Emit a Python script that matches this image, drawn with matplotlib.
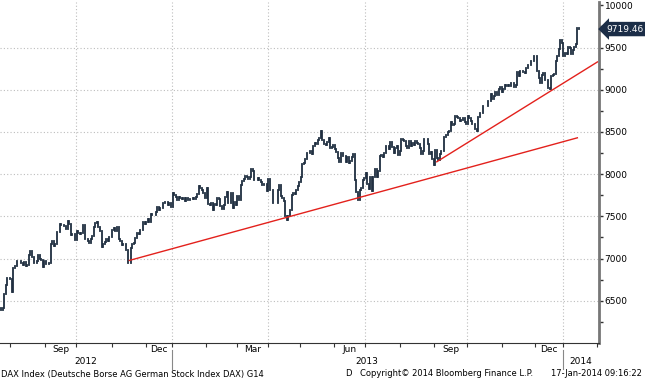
import numpy as np
import pandas as pd
import matplotlib
matplotlib.use('Agg')
import matplotlib.pyplot as plt
import matplotlib.transforms as mtransforms
from matplotlib.lines import Line2D

#%% Data: DAX daily closes, one row per week (Mon..Fri), nan = exchange closed
week0 = '2012-07-23'
nan = np.nan
closes = [
    [6419, 6390, 6412, 6583, 6689],
    [6773, 6772, 6754, 6606, 6888],
    [6918, 6967, 6966, 6966, 6944],
    [6929, 6954, 6910, 6928, 7041],
    [7087, 7017, 6953, 6950, 6972],
    [7047, 6991, 6983, 6895, 6970],
    [6933, 6932, 6942, 7167, 7214],
    [7152, 7167, 7310, 7310, 7412],
    [7403, 7393, 7390, 7349, 7451],
    [7413, 7276, 7291, 7290, 7216],
    [7326, 7306, 7292, 7306, 7397],
    [7231, 7234, 7205, 7181, 7233],
    [7262, 7377, 7425, 7437, 7380],
    [7329, 7141, 7171, 7198, 7232],
    [7204, 7253, 7261, 7335, 7364],
    [7327, 7377, 7232, 7204, 7163],
    [7169, 7168, 7101, 6951, 6950],
    [7123, 7173, 7183, 7244, 7309],
    [7293, 7343, 7336, 7435, 7405],
    [7435, 7471, 7435, 7534, 7517],
    [7514, 7557, 7614, 7581, 7596],
    [7605, 7655, 7673, 7668, 7636],
    [nan, nan, nan, 7655, 7612],
    [nan, nan, 7778, 7756, 7732],
    [7696, 7732, 7720, 7708, 7715],
    [7682, 7715, 7689, 7702, 7701],
    [7718, 7708, 7726, 7760, 7857],
    [7834, 7811, 7776, 7723, 7833],
    [7641, 7639, 7660, 7581, 7652],
    [7634, 7713, 7705, 7628, 7593],
    [7638, 7728, 7785, 7660, 7662],
    [7773, 7600, 7675, 7635, 7741],
    [7691, 7870, 7917, 7944, 7973],
    [7964, 7939, 7966, 8058, 8042],
    [7931, 7929, 7960, 7932, 7912],
    [7870, 7878, 7879, 7795, nan],
    [nan, 7943, 7810, 7817, 7658],
    [7663, 7662, 7810, 7871, 7744],
    [7712, 7682, 7503, 7459, 7504],
    [7574, 7758, 7779, 7769, 7814],
    [7863, 7913, nan, 7963, 8122],
    [8135, 8181, 8249, 8248, 8278],
    [8234, 8338, 8369, 8363, 8400],
    [8425, 8510, 8400, 8352, 8349],
    [8383, 8432, 8311, 8322, 8348],
    [8295, 8258, 8189, 8140, 8254],
    [8221, 8218, 8142, 8209, 8128],
    [8157, 8205, 8238, 7928, 7789],
    [7692, 7808, 7832, 7934, 7959],
    [8010, 7879, 7829, 7970, 7806],
    [7970, 8057, 7970, 8039, 8212],
    [8233, 8201, 8250, 8330, 8331],
    [8303, 8382, 8318, 8247, 8313],
    [8339, 8223, 8276, 8411, 8404],
    [8397, 8332, 8311, 8399, 8338],
    [8364, 8344, 8391, 8369, 8355],
    [8310, 8240, 8279, 8413, 8416],
    [8356, 8242, 8258, 8175, 8103],
    [8286, 8195, 8165, 8235, 8275],
    [8276, 8446, 8469, 8495, 8509],
    [8613, 8588, 8600, 8694, 8675],
    [8665, 8628, 8639, 8660, 8617],
    [8594, 8694, 8669, 8630, 8590],
    [8591, 8537, 8516, 8681, 8725],
    [8724, 8804, 8806, 8812, 8869],
    [8868, 8947, 8889, 8924, 8978],
    [8940, 9010, 9033, 8968, 9009],
    [9055, 9041, 9058, 9040, 9078],
    [9077, 9037, 9055, 9215, 9168],
    [9226, 9225, 9207, 9193, 9262],
    [9292, 9290, 9336, 9345, 9406],
    [9403, 9225, 9140, 9084, 9172],
    [9200, 9114, 9114, 9017, 9006],
    [9163, 9181, 9182, 9336, 9400],
    [9488, nan, nan, nan, 9590],
    [9552, nan, nan, 9400, 9435],
    [9428, 9506, 9497, 9421, 9473],
    [9511, 9540, 9733, 9717, 9719.46],
]

holidays = ['2012-12-24', '2012-12-25', '2012-12-26', '2012-12-31', '2013-01-01',
            '2013-03-29', '2013-04-01', '2013-05-01', '2013-12-24', '2013-12-25',
            '2013-12-26', '2013-12-31', '2014-01-01']

# trend lines (start date, end date), (start value, end value)
trend1_dates = ['2012-11-16', '2014-01-15']
trend1_vals = [6978, 8431]
trend2_dates = ['2013-09-03', '2014-02-03']
trend2_vals = [8147, 9330]

yticks = [6500, 7000, 7500, 8000, 8500, 9000, 9500, 10000]
month_labels = ['Sep', 'Dec', 'Mar', 'Jun', 'Sep', 'Dec']
month_label_dates = ['2012-09', '2012-12', '2013-03', '2013-06', '2013-09', '2013-12']
year_labels = ['2012', '2013', '2014']
year_starts = ['2013-01-01', '2014-01-01']

#%% Trading day calendar -> x positions
cal = pd.bdate_range(week0, '2014-03-31')
cal = cal[~cal.isin(pd.to_datetime(holidays))]

c = np.array(closes, dtype=float).ravel()
c = c[~np.isnan(c)]
x = np.arange(len(c))
o = np.r_[c[0], c[:-1]]

def pos(d):
    return cal.searchsorted(pd.Timestamp(d))

#%% Plot
fig = plt.figure(figsize=(6.45, 3.8), dpi=100)
ax = fig.add_axes([0, 37/380, 599/645, 341/380])

bars = ax.vlines(x, np.minimum(o, c), np.maximum(o, c), color='#1f2e40', lw=1.3)
bars.set_capstyle('projecting')

ax.plot([pos(d) for d in trend1_dates], trend1_vals, color='#e3211c', lw=1.0)
ax.plot([pos(d) for d in trend2_dates], trend2_vals, color='#e3211c', lw=1.0)

ax.set_xlim(0.3, 388)
ax.set_ylim(6000, 10040)

# x ticks: month boundaries, gridlines at quarter boundaries
months = pd.date_range('2012-08-01', '2014-02-01', freq='MS')
mpos = [pos(m) - 0.5 for m in months]
qpos = [pos(m) - 0.5 for m in months if m.month in (1, 4, 7, 10)]
ax.set_xticks(qpos)
ax.set_xticks(mpos, minor=True)
ax.set_xticklabels([])
ax.set_yticks(yticks)
ax.set_yticks(np.arange(6250, 10040, 250), minor=True)
ax.yaxis.tick_right()
ax.set_yticklabels([str(v) for v in yticks])
ax.tick_params(axis='y', which='both', direction='out', length=3, width=1,
               color='#333333', labelsize=6.5, pad=1)
ax.tick_params(axis='x', which='both', direction='out', length=3, width=0.8,
               color='#333333')
ax.grid(True, which='major', color='#bdbdbd', linestyle=(0, (1, 2)), lw=0.8)
ax.get_ygridlines()[-1].set_visible(False)

for s in ['left', 'top']:
    ax.spines[s].set_visible(False)
ax.spines['right'].set_color('#777777')
ax.spines['right'].set_linewidth(2)
ax.spines['bottom'].set_color('#333333')
ax.spines['bottom'].set_linewidth(0.8)

# last price tag
yx = mtransforms.blended_transform_factory(ax.transAxes, ax.transData)
ax.text(1.012, c[-1], f'{c[-1]:.2f}', transform=yx, color='white', fontsize=6.5,
        va='center', ha='left',
        bbox=dict(boxstyle='larrow,pad=0.3', fc='#1b2d47', ec='none'))

# month / year labels below the axis
xf = mtransforms.blended_transform_factory(ax.transData, fig.transFigure)
for lab, m in zip(month_labels, month_label_dates):
    p = pd.Period(m, 'M')
    a = pos(p.start_time)
    b = pos(p.end_time.normalize()) if p.end_time.normalize() in cal else pos(p.end_time) - 1
    ax.text((a + b) / 2, 1 - 350/380, lab, transform=xf, fontsize=6.5,
            ha='center', va='center')

ys = [pos(d) - 0.5 for d in year_starts]
edges = [0.3] + ys + [388]
for lab, a, b in zip(year_labels, edges[:-1], edges[1:]):
    ax.text((a + b) / 2, 1 - 362/380, lab, transform=xf, fontsize=6.5,
            ha='center', va='center')
for s in ys:
    fig.add_artist(Line2D([s, s], [1 - 350/380, 1 - 369/380], transform=xf,
                          color='#888888', lw=0.8))

fig.text(0.002, 1 - 374/380, 'DAX Index (Deutsche Borse AG German Stock Index DAX) G14',
         fontsize=6, va='center', ha='left')
fig.text(345/645, 1 - 374/380, 'D', fontsize=6, va='center', ha='left')
fig.text(360/645, 1 - 374/380, 'Copyright© 2014 Bloomberg Finance L.P.',
         fontsize=6, va='center', ha='left')
fig.text(642/645, 1 - 374/380, '17-Jan-2014 09:16:22',
         fontsize=6, va='center', ha='right')

fig.savefig('out.png', dpi=100, facecolor='white')
